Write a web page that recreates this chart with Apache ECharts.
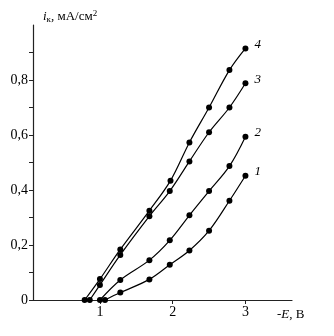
<!DOCTYPE html>
<html>
<head>
<meta charset="utf-8">
<script src="https://cdn.jsdelivr.net/npm/echarts@6/dist/echarts.min.js"></script>
<style>html,body{margin:0;padding:0;background:#fff}#c{width:334px;height:336px}</style>
</head>
<body>
<div id="c"></div>
<script>
// Curve 1
const x1 = [1.07, 1.28, 1.68, 1.96, 2.23, 2.5, 2.78, 3.0];
const y1 = [0, 0.027, 0.075, 0.128, 0.18, 0.252, 0.361, 0.452];
// Curve 2
const x2 = [1.0, 1.28, 1.68, 1.96, 2.23, 2.5, 2.78, 3.0];
const y2 = [0, 0.073, 0.145, 0.217, 0.308, 0.396, 0.487, 0.594];
// Curve 3
const x3 = [0.86, 1.0, 1.28, 1.68, 1.96, 2.23, 2.5, 2.78, 3.0];
const y3 = [0, 0.055, 0.164, 0.305, 0.396, 0.504, 0.61, 0.70, 0.788];
// Curve 4
const x4 = [0.79, 1.0, 1.28, 1.68, 1.97, 2.23, 2.5, 2.78, 3.0];
const y4 = [0, 0.076, 0.184, 0.325, 0.434, 0.573, 0.70, 0.836, 0.915];

const curveNames = ['1', '2', '3', '4'];
const xTickLabels = [1, 2, 3];
const yTickValues = [0, 0.1, 0.2, 0.3, 0.4, 0.5, 0.6, 0.7, 0.8, 0.9];
const yTickLabels = [0, 0.2, 0.4, 0.6, 0.8];

const FONT = '"Liberation Serif", "DejaVu Serif", serif';
const xs = [x1, x2, x3, x4];
const ys = [y1, y2, y3, y4];

const series = curveNames.map((n, i) => ({
  name: n,
  type: 'line',
  data: xs[i].map((x, j) => [x, ys[i][j]]),
  smooth: 0.35,
  symbol: 'circle',
  symbolSize: 6,
  itemStyle: { color: '#000' },
  lineStyle: { color: '#000', width: 1.2 },
  endLabel: {
    show: true,
    formatter: n,
    fontFamily: FONT,
    fontStyle: 'italic',
    fontSize: 13,
    color: '#000',
    offset: [1, -4]
  },
  animation: false
}));

const chart = echarts.init(document.getElementById('c'));
chart.setOption({
  animation: false,
  backgroundColor: '#fff',
  grid: { left: 33, right: 42, top: 25, bottom: 36 },
  xAxis: {
    type: 'value',
    min: 0.08,
    max: 3.64,
    axisLine: { show: true, onZero: false, lineStyle: { color: '#222', width: 1.2 } },
    axisTick: { show: true, customValues: xTickLabels, length: 4, lineStyle: { color: '#222' } },
    axisLabel: { customValues: xTickLabels, fontFamily: FONT, fontSize: 14, color: '#000', margin: 5 },
    splitLine: { show: false }
  },
  yAxis: {
    type: 'value',
    min: 0,
    max: 1.0,
    axisLine: { show: true, onZero: false, lineStyle: { color: '#222', width: 1.2 } },
    axisTick: { show: true, customValues: yTickValues, length: 4, lineStyle: { color: '#222' } },
    axisLabel: {
      customValues: yTickLabels,
      fontFamily: FONT, fontSize: 14, color: '#000', margin: 5,
      formatter: v => (v === 0 ? '0' : v.toFixed(1).replace('.', ','))
    },
    splitLine: { show: false }
  },
  graphic: [
    {
      type: 'text', left: 43, top: 9,
      style: {
        text: '{i|i}{s|к}{n|, мА/см}{p|2}',
        rich: {
          i: { fontFamily: FONT, fontStyle: 'italic', fontSize: 13, fill: '#000' },
          s: { fontFamily: FONT, fontSize: 9, fill: '#000', padding: [6, 0, 0, 0] },
          n: { fontFamily: FONT, fontSize: 13, fill: '#000' },
          p: { fontFamily: FONT, fontSize: 9, fill: '#000', padding: [0, 0, 7, 0] }
        }
      }
    },
    {
      type: 'text', left: 277, top: 308,
      style: {
        text: '{n|-}{i|E}{n|, В}',
        rich: {
          i: { fontFamily: FONT, fontStyle: 'italic', fontSize: 13, fill: '#000' },
          n: { fontFamily: FONT, fontSize: 13, fill: '#000' }
        }
      }
    }
  ],
  series: series
});
</script>
</body>
</html>
